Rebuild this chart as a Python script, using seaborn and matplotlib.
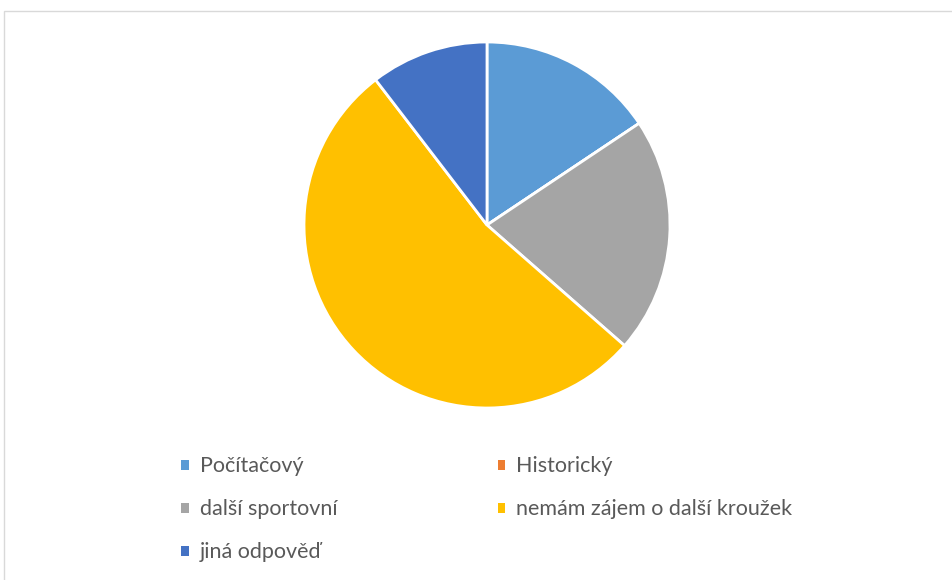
import matplotlib
matplotlib.use("Agg")
import matplotlib.pyplot as plt
from matplotlib.patches import Patch, Rectangle
import seaborn as sns

categories = ["Počítačový", "Historický", "další sportovní", "nemám zájem o další kroužek", "jiná odpověď"]
values = [15, 0, 20, 51, 10]
colors = ["#5B9BD5", "#ED7D31", "#A5A5A5", "#FFC000", "#4472C4"]

sns.set_theme(style="white")
plt.rcParams["font.family"] = ["Lato", "DejaVu Sans"]

W, H = 953, 580
fig = plt.figure(figsize=(W / 100, H / 100), dpi=100)
fig.patch.set_facecolor("white")

# chart border
fig.add_artist(Rectangle((4 / W, -0.01), 1.0, (H - 11) / H + 0.01, transform=fig.transFigure,
                         fill=False, edgecolor="#D9D9D9", linewidth=1.0))

cx, cy, r = 487, 225, 183
ax = fig.add_axes([(cx - r) / W, (H - cy - r) / H, 2 * r / W, 2 * r / H])
ax.pie(values, colors=colors, startangle=90, counterclock=False,
       wedgeprops=dict(edgecolor="white", linewidth=2))
ax.set_xlim(-1, 1)
ax.set_ylim(-1, 1)
ax.set_aspect("equal")
ax.axis("off")

order = [0, 2, 4, 1, 3]
handles = [Patch(facecolor=colors[i], edgecolor="none") for i in order]
labels = [categories[i] for i in order]
fig.legend(handles, labels, ncol=2, loc="upper left",
           bbox_to_anchor=(162 / W, 1 - 437 / H), frameon=False,
           fontsize=15.5, labelcolor="#595959",
           handlelength=0.35, handleheight=0.35, handletextpad=0.5,
           labelspacing=1.07, columnspacing=7.45)

fig.savefig("out.png", dpi=100, facecolor="white")
